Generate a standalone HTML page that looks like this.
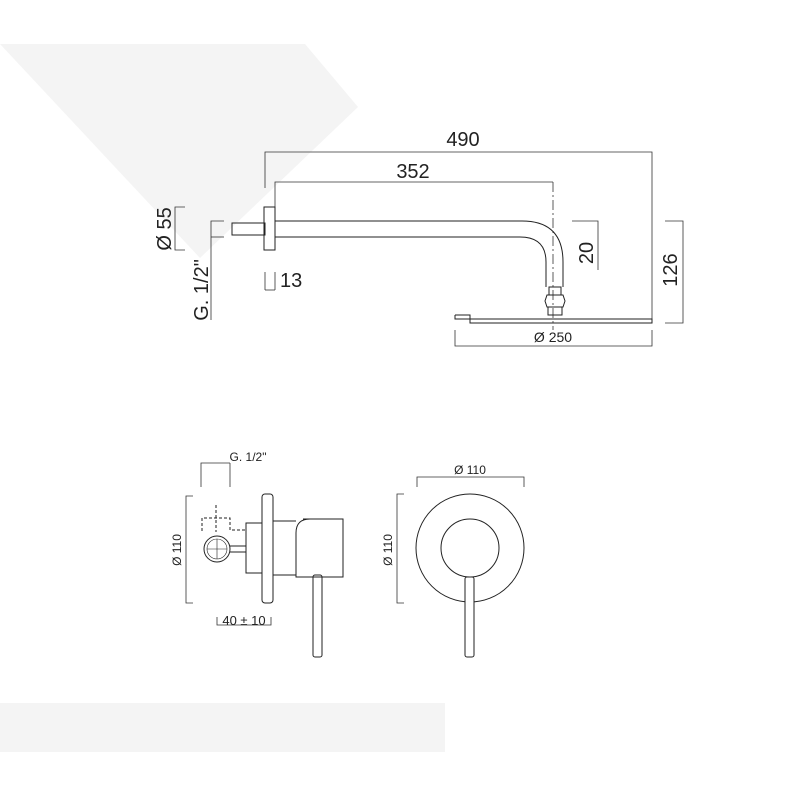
<!DOCTYPE html>
<html><head><style>body{margin:0;background:#fff}svg{display:block}</style></head><body>
<svg width="800" height="800" viewBox="0 0 800 800" xmlns="http://www.w3.org/2000/svg" font-family="Liberation Sans, sans-serif" fill="none" stroke="#222" stroke-width="1">
<polygon points="0,44 305,44 358,107 200,258" fill="#f4f4f4" stroke="none"/>
<rect x="0" y="703" width="445" height="49" fill="#f4f4f4" stroke="none"/>
<g stroke-width="0.8" stroke="#333">
<polyline points="265,188 265,152 652,152 652,320"/>
<polyline points="275,210 275,182 553,182"/>
<line x1="553" y1="182" x2="553" y2="330" stroke-dasharray="10,3,2,3"/>
<polyline points="185,207 175,207 175,250 185,250"/>
<polyline points="224,221 211,221 211,320"/>
<line x1="211" y1="237" x2="224" y2="237"/>
<polyline points="265,290 265,272"/><polyline points="275,290 275,272"/><line x1="265" y1="290" x2="275" y2="290"/>
<polyline points="572,221 598,221 598,270"/>
<polyline points="665,221 683,221 683,323 665,323"/>
<polyline points="455,330 455,346 652,346 652,330"/>
</g>
<rect x="232" y="223" width="33" height="12" stroke-width="1"/>
<rect x="264" y="207" width="11" height="43" stroke-width="1"/>
<path d="M275 221 H522 Q563 221 563 262 V287 M275 237 H520 Q546 237 546 262 V287" stroke-width="1"/>
<rect x="549" y="287" width="12" height="8"/>
<path d="M547 295 h16 l2 6 -2 6 h-16 l-2 -6 z"/>
<rect x="548" y="307" width="14" height="8"/>
<path d="M455 315 H470 V319 H652 V323 H470 V319 M455 315 V319 H470" stroke-width="1"/>
<g fill="#222" stroke="none" font-size="20">
<text x="463" y="146" text-anchor="middle">490</text>
<text x="413" y="178" text-anchor="middle">352</text>
<text x="280" y="287">13</text>
<text transform="translate(171,229) rotate(-90)" text-anchor="middle">Ø 55</text>
<text transform="translate(208,290) rotate(-90)" text-anchor="middle">G. 1/2"</text>
<text transform="translate(593,253) rotate(-90)" text-anchor="middle">20</text>
<text transform="translate(677,270) rotate(-90)" text-anchor="middle">126</text>
<text x="553" y="342" text-anchor="middle" font-size="14">Ø 250</text>
</g>
<g stroke-width="0.8" stroke="#333">
<polyline points="201,487 201,463 230,463"/>
<line x1="230" y1="463" x2="230" y2="487"/>
<polyline points="193,496 186,496 186,603 193,603"/>
<polyline points="217,617 217,625 271,625 271,617"/>
<polyline points="417,487 417,477 524,477 524,487"/>
<polyline points="404,494 397,494 397,603 404,603"/>
</g>
<rect x="262" y="494" width="11" height="109" rx="3"/>
<rect x="246" y="523" width="16" height="50"/>
<path d="M273 521 H296 M273 575 H296"/>
<path d="M303 519 H343 V577 H296 V533 Q296 519 310 519"/>
<rect x="313" y="575" width="9" height="82" rx="2"/>
<path d="M202 531 V518 H230 V530 H245" stroke-dasharray="3,2"/>
<line x1="216" y1="505" x2="216" y2="532" stroke-dasharray="3,2"/>
<circle cx="217" cy="549" r="13"/><circle cx="217" cy="549" r="10" stroke-width="0.6"/>
<path d="M207 549 H227 M217 539 V559" stroke-width="0.6"/>
<path d="M230 546 H246 M230 552 H246"/>
<circle cx="470" cy="548" r="54"/>
<circle cx="470" cy="548" r="29"/>
<rect x="465" y="577" width="9" height="80" rx="2" fill="#fff"/>
<g fill="#222" stroke="none" font-size="12">
<text x="248" y="461" text-anchor="middle">G. 1/2"</text>
<text x="244" y="625" text-anchor="middle" font-size="13">40 ± 10</text>
<text x="470" y="474" text-anchor="middle">Ø 110</text>
<text transform="translate(181,550) rotate(-90)" text-anchor="middle">Ø 110</text>
<text transform="translate(392,550) rotate(-90)" text-anchor="middle">Ø 110</text>
</g>
</svg>
</body></html>
